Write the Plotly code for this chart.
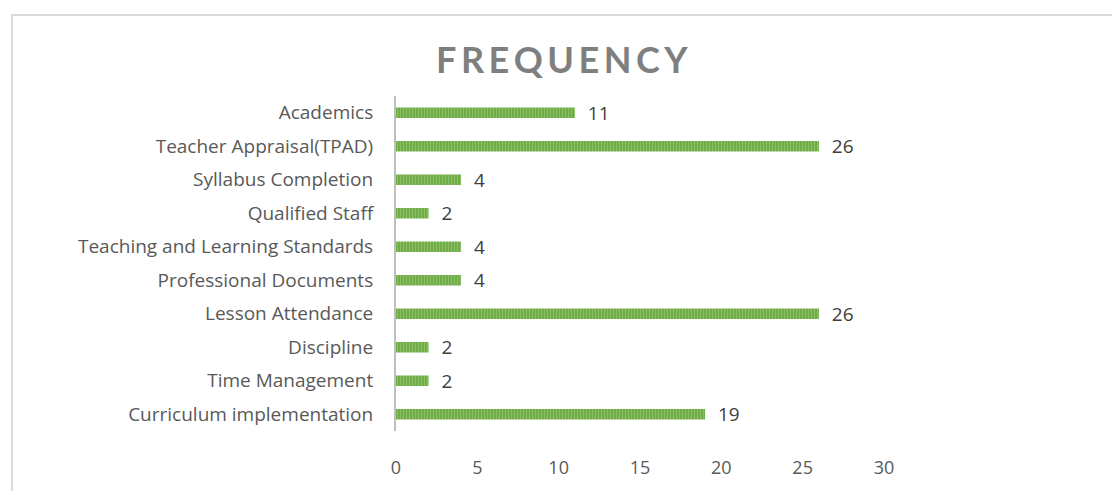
import plotly.graph_objects as go

categories = [
    "Academics",
    "Teacher Appraisal(TPAD)",
    "Syllabus Completion",
    "Qualified Staff",
    "Teaching and Learning Standards",
    "Professional Documents",
    "Lesson Attendance",
    "Discipline",
    "Time Management",
    "Curriculum implementation",
]
frequency = [11, 26, 4, 2, 4, 4, 26, 2, 2, 19]
x_ticks = [0, 5, 10, 15, 20, 25, 30]

W, H = 1112, 491
L, R, T, B = 396, 228, 96, 56
pw, ph = W - L - R, H - T - B

def px_x(p):
    return (p - L) / pw

def px_y(p):
    return (H - B - p) / ph

FONT = "Open Sans"

fig = go.Figure()
fig.add_trace(go.Bar(
    x=frequency,
    y=categories,
    orientation="h",
    marker=dict(
        color="#70AD47",
        line=dict(width=0),
        pattern=dict(shape="|", fgcolor="#A9D18E", bgcolor="#70AD47", size=3, solidity=0.35),
    ),
    text=frequency,
    texttemplate="  %{x}",
    textposition="outside",
    constraintext="none",
    textfont=dict(family=FONT, size=19, color="#404040"),
    cliponaxis=False,
    width=0.32,
))

fig.update_layout(
    width=W, height=H,
    margin=dict(l=L, r=R, t=T, b=B),
    paper_bgcolor="white",
    plot_bgcolor="white",
    showlegend=False,
    font=dict(family=FONT, color="#595959"),
    xaxis=dict(
        range=[0, 30],
        tickvals=x_ticks,
        showgrid=False,
        zeroline=False,
        showline=False,
        ticks="outside",
        ticklen=20,
        tickcolor="rgba(0,0,0,0)",
        tickfont=dict(family=FONT, size=18, color="#595959"),
    ),
    yaxis=dict(
        autorange="reversed",
        showgrid=False,
        zeroline=False,
        showline=True,
        linecolor="#BFBFBF",
        linewidth=2,
        ticks="outside",
        ticklen=17,
        tickcolor="rgba(0,0,0,0)",
        tickfont=dict(family=FONT, size=19, color="#595959"),
    ),
    shapes=[dict(
        type="rect", xref="paper", yref="paper",
        x0=px_x(12), x1=px_x(1130), y0=px_y(14), y1=px_y(520),
        line=dict(color="#D9D9D9", width=2),
        fillcolor="rgba(0,0,0,0)",
        layer="below",
    )],
    annotations=[dict(
        text="F\u2009R\u2009E\u2009Q\u2009U\u2009E\u2009N\u2009C\u2009Y",
        xref="paper", yref="paper",
        x=px_x(561.5), y=px_y(59),
        xanchor="center", yanchor="middle",
        showarrow=False,
        font=dict(family="Lato", size=36, color="#7F7F7F", weight="bold"),
    )],
)

fig.write_html("out.html")
